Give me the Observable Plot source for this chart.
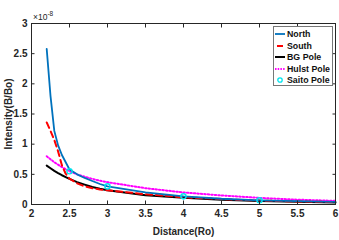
<!DOCTYPE html>
<html><head><meta charset="utf-8">
<script src="https://cdn.jsdelivr.net/npm/d3@7"></script>
<script src="https://cdn.jsdelivr.net/npm/@observablehq/plot@0.6"></script>
<style>
body{margin:0;background:#fff;}
#wrap{position:relative;width:339px;height:240px;font-family:"Liberation Sans",Arial,sans-serif;}
#legend{position:absolute;left:273px;top:26px;width:60px;height:60px;border:1px solid #777;background:#fff;box-sizing:border-box;font-weight:bold;font-size:8.8px;color:#111;}
#legend .row{position:absolute;left:0;height:11px;display:flex;align-items:center;white-space:nowrap;}
#legend svg{display:block;}
#exp{position:absolute;left:33px;top:10px;font-size:8.5px;color:#262626;}
</style></head>
<body><div id="wrap"></div>
<script>
const distance = [2.2,2.25,2.3,2.35,2.4,2.45,2.5,2.6,2.7,2.8,2.9,3,3.5,4,4.5,5,5.5,6];
const north = [2.58,1.80,1.22,0.98,0.82,0.70,0.58,0.50,0.44,0.39,0.34,0.30,0.20,0.135,0.095,0.07,0.055,0.045];
const south = [1.36,1.22,1.07,0.88,0.65,0.51,0.43,0.35,0.30,0.27,0.25,0.235,0.17,0.12,0.09,0.065,0.05,0.04];
const bgPole = [0.645,0.60,0.557,0.52,0.485,0.455,0.425,0.37,0.33,0.29,0.26,0.235,0.155,0.11,0.08,0.06,0.045,0.035];
const hulst = [0.80,0.75,0.70,0.66,0.62,0.585,0.55,0.50,0.46,0.425,0.395,0.37,0.27,0.20,0.15,0.11,0.08,0.06];
const saitoX = [2.5,3,4,5];
const saitoY = [0.55,0.30,0.135,0.07];
const xTicks = [2,2.5,3,3.5,4,4.5,5,5.5,6];
const yTicks = [0,0.5,1,1.5,2,2.5,3];
const seriesNames = ["North","South","BG Pole","Hulst Pole","Saito Pole"];

const mk = arr => distance.map((d,i)=>({x:d,y:arr[i]}));
const saito = saitoX.map((d,i)=>({x:d,y:saitoY[i]}));
const fmt = d => String(d);

const plot = Plot.plot({
  width:339, height:240,
  marginLeft:31, marginRight:4, marginTop:23, marginBottom:36,
  style:{fontFamily:'"Liberation Sans",Arial,sans-serif', fontSize:"10px", fontWeight:"bold", color:"#262626", background:"#fff"},
  x:{domain:[2,6]},
  y:{domain:[0,3]},
  marks:[
    Plot.line(mk(bgPole),{x:"x",y:"y",stroke:"#000",strokeWidth:2}),
    Plot.line(mk(hulst),{x:"x",y:"y",stroke:"#ff00ff",strokeWidth:2,strokeDasharray:"1.5,2"}),
    Plot.line(mk(south),{x:"x",y:"y",stroke:"#ff0000",strokeWidth:2,strokeDasharray:"6,4"}),
    Plot.line(mk(north),{x:"x",y:"y",stroke:"#0072BD",strokeWidth:1.8}),
    Plot.dot(saito,{x:"x",y:"y",r:2.6,stroke:"#00e5ee",strokeWidth:1.4,fill:"none"}),
    Plot.frame({stroke:"#262626",strokeWidth:1}),
    Plot.axisX(xTicks,{anchor:"bottom",tickSize:0,tickPadding:5,tickFormat:fmt,label:"Distance(Ro)",labelAnchor:"center",labelArrow:"none",labelOffset:30}),
    Plot.axisX(xTicks,{anchor:"bottom",tickSize:-3.5,tickFormat:()=>"",label:null}),
    Plot.axisX(xTicks,{anchor:"top",tickSize:-3.5,tickFormat:()=>"",label:null}),
    Plot.axisY(yTicks,{anchor:"left",tickSize:0,tickPadding:4,tickFormat:fmt,label:"Intensity(B/Bo)",labelAnchor:"center",labelArrow:"none",labelOffset:27}),
    Plot.axisY(yTicks,{anchor:"left",tickSize:-3.5,tickFormat:()=>"",label:null}),
    Plot.axisY(yTicks,{anchor:"right",tickSize:-3.5,tickFormat:()=>"",label:null})
  ]
});
const wrap = document.getElementById("wrap");
wrap.appendChild(plot);

const exp = document.createElement("div");
exp.id="exp";
exp.innerHTML = "×10<sup style='font-size:6.5px'>-8</sup>";
wrap.appendChild(exp);

const legend = document.createElement("div");
legend.id="legend";
const swatch = [
  `<line x1="1" y1="5" x2="11" y2="5" stroke="#0072BD" stroke-width="1.8"/>`,
  `<line x1="3" y1="5" x2="9" y2="5" stroke="#ff0000" stroke-width="2"/>`,
  `<line x1="1" y1="5" x2="11" y2="5" stroke="#000" stroke-width="2"/>`,
  `<line x1="1" y1="5" x2="11" y2="5" stroke="#ff00ff" stroke-width="2" stroke-dasharray="1.5,1.2"/>`,
  `<circle cx="6" cy="5" r="2.2" stroke="#00e5ee" stroke-width="1.3" fill="none"/>`
];
seriesNames.forEach((n,i)=>{
  const row=document.createElement("div");
  row.className="row";
  row.style.top=(1.5+i*11.6)+"px";
  row.innerHTML=`<svg width="13" height="10">${swatch[i]}</svg><span>${n}</span>`;
  legend.appendChild(row);
});
wrap.appendChild(legend);
</script>
</body></html>
